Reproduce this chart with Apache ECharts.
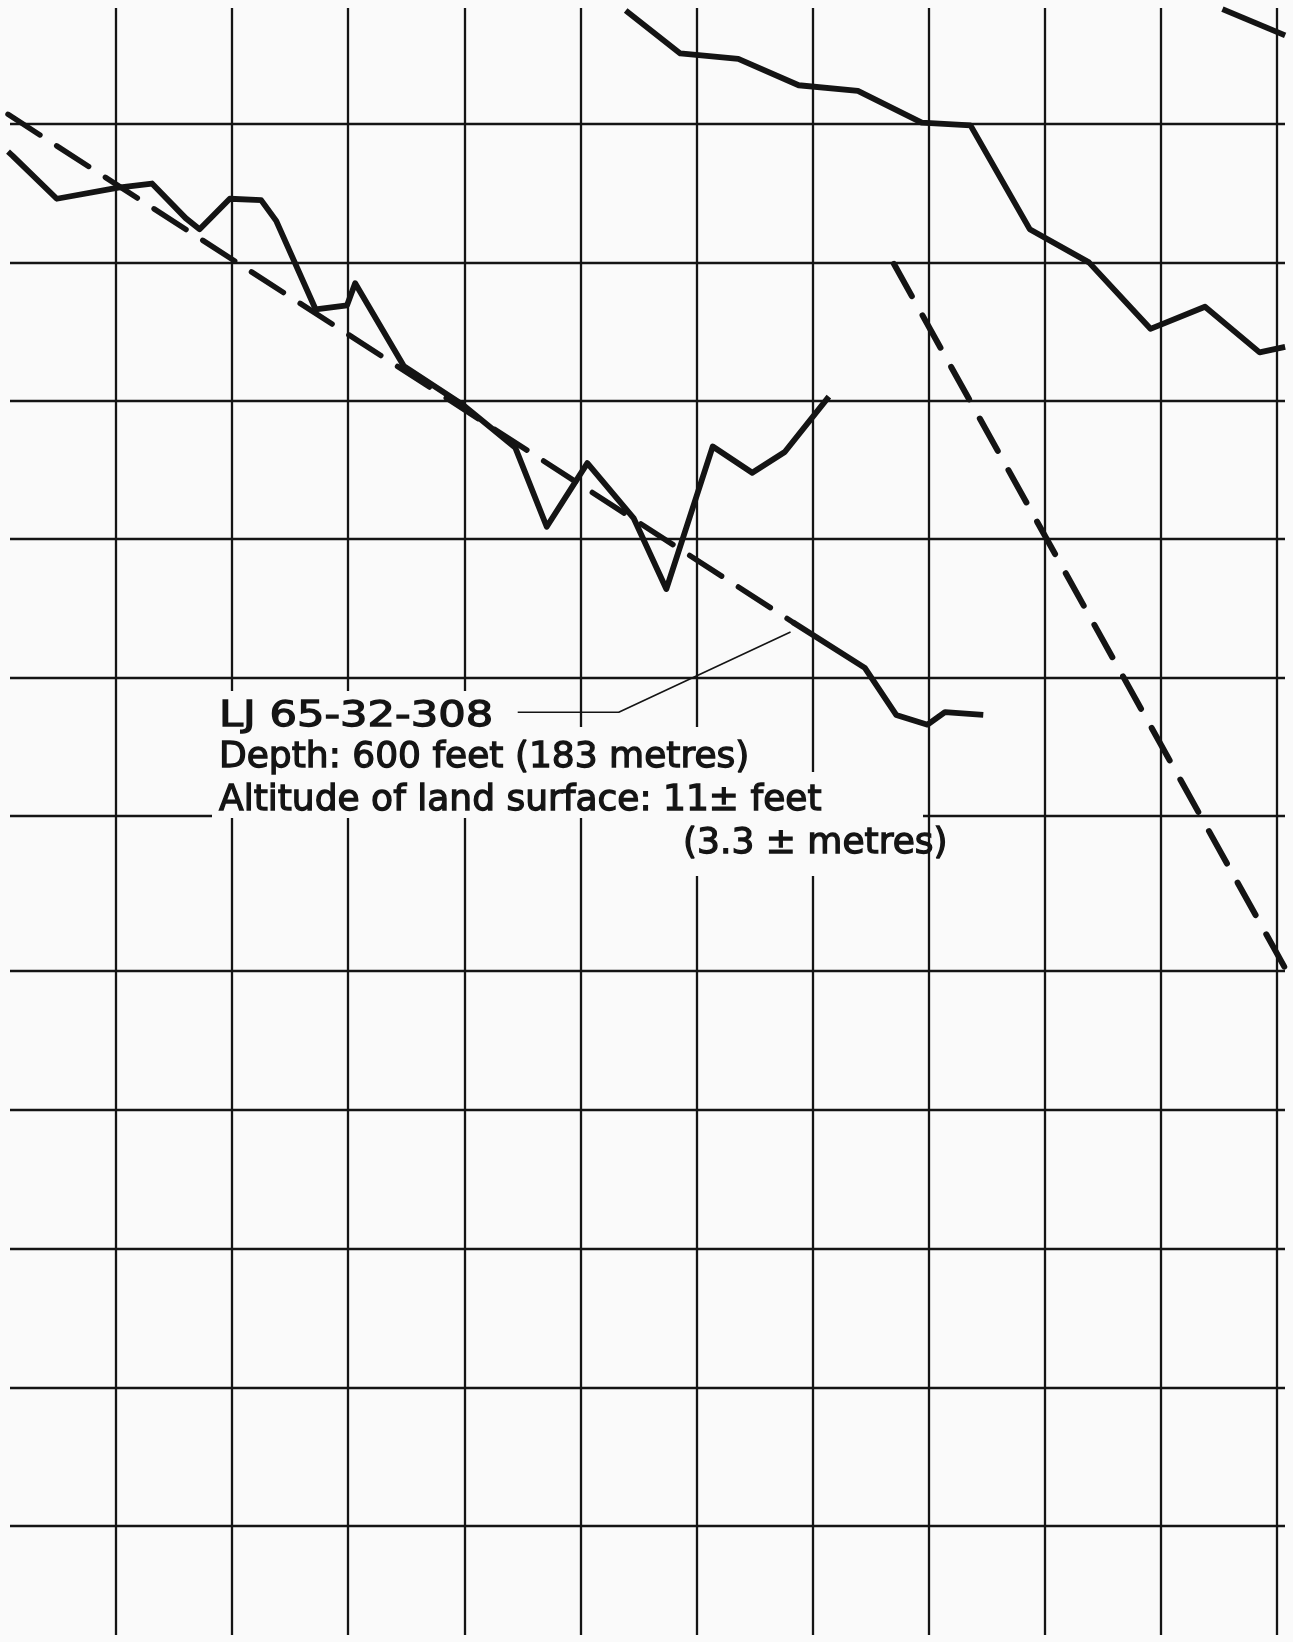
<!DOCTYPE html>
<html>
<head>
<meta charset="utf-8">
<title>LJ 65-32-308</title>
<script src="https://cdn.jsdelivr.net/npm/echarts@6.0.0/dist/echarts.min.js"></script>
<style>
  html, body { margin: 0; padding: 0; background: #fafafa; }
  #chart { width: 1293px; height: 1642px; }
</style>
</head>
<body>
<div id="chart"></div>
<script>
// values, in grid squares:
// x = squares right of the first vertical rule, y = squares above the 6th horizontal rule
var wellLevels = [
  [-0.93, 4.80], [-0.89, 4.77], [-0.51, 4.46], [0.02, 4.54], [0.31, 4.57], [0.60, 4.32],
  [0.72, 4.24], [0.98, 4.46], [1.25, 4.45], [1.38, 4.30], [1.72, 3.66],
  [1.99, 3.69], [2.06, 3.85], [2.48, 3.25], [2.99, 2.97], [3.44, 2.66],
  [3.71, 2.09], [4.06, 2.55], [4.46, 2.15], [4.74, 1.64], [5.14, 2.67],
  [5.48, 2.48], [5.76, 2.63], [6.14, 3.03]
]
var wellLevelsLate = [
  [5.83, 1.40], [6.45, 1.07], [6.72, 0.73], [6.99, 0.66], [7.14, 0.75], [7.47, 0.73]
]
var trendEarly = [[-0.93, 5.07], [5.83, 1.40]]
var upperLevels = [
  [4.39, 5.82], [4.86, 5.51], [5.36, 5.47], [5.88, 5.28], [6.39, 5.24],
  [6.94, 5.01], [7.36, 4.99], [7.87, 4.24], [8.38, 4.00], [8.91, 3.52],
  [9.38, 3.68], [9.85, 3.35], [10.07, 3.39]
]
var upperCorner = [[9.53, 5.83], [10.07, 5.64]]
var trendSteep = [[6.70, 3.99], [10.07, -1.10]]
var leaderLine = [[3.46, 0.75], [4.33, 0.75], [5.81, 1.33]]

var labelLines = [
  'LJ 65-32-308',
  'Depth: 600 feet (183 metres)',
  'Altitude of land surface: 11\u00b1 feet',
  '(3.3 \u00b1 metres)'
]

var INK = '#141414'
var PAPER = '#fafafa'
var W = 1293
var H = 1642
var COL = 116.1       // px per grid square, horizontal
var ROW = 138.4       // px per grid square, vertical
var ZERO_X = 116      // px of the rule at x = 0
var ZERO_Y = 816      // px of the rule at y = 0

var chart = echarts.init(document.getElementById('chart'), null, { renderer: 'canvas' })
chart.setOption(getOptions())

function lineSeries (data, width, dash) {
  return {
    type: 'line',
    xAxisIndex: 3,
    yAxisIndex: 3,
    data: data,
    showSymbol: false,
    clip: false,
    silent: true,
    z: 20,
    lineStyle: {
      color: INK,
      width: width,
      type: dash || 'solid',
      cap: dash ? 'round' : 'butt',
      join: 'round'
    }
  }
}

function hiddenAxis (gridIndex) {
  return { gridIndex: gridIndex, type: 'value', min: 0, max: 1, show: false }
}

function ruleAxis (gridIndex, max) {
  return {
    gridIndex: gridIndex,
    type: 'value',
    min: 0,
    max: max,
    interval: 1,
    axisLine: { show: false },
    axisTick: { show: false },
    axisLabel: { show: false },
    splitLine: { show: true, lineStyle: { color: INK, width: 2.3 } }
  }
}

function labelBox (x, y, w, h) {
  return { type: 'rect', z: 5, silent: true, shape: { x: x, y: y, width: w, height: h }, style: { fill: PAPER } }
}

function labelText (i, x, y, sx) {
  return {
    type: 'text', z: 6, silent: true, x: x, y: y, scaleX: sx || 1,
    style: {
      text: labelLines[i],
      font: '36px "DejaVu Sans"',
      fill: INK,
      stroke: INK,
      lineWidth: 1.3,
      align: 'left',
      verticalAlign: 'middle'
    }
  }
}

function getOptions () {
  return {
    backgroundColor: PAPER,
    animation: false,
    grid: [
      // vertical rules
      { left: 116, right: 16, top: 8, bottom: 7 },
      // horizontal rules, upper and lower sheet
      { left: 10, right: 8, top: 124, height: 692 },
      { left: 10, right: 8, top: 971, height: 555 },
      // whole page, for the curves
      { left: 0, right: 0, top: 0, bottom: 0 }
    ],
    xAxis: [
      ruleAxis(0, 10),
      hiddenAxis(1),
      hiddenAxis(2),
      { gridIndex: 3, type: 'value', show: false, min: -ZERO_X / COL, max: (W - ZERO_X) / COL }
    ],
    yAxis: [
      hiddenAxis(0),
      ruleAxis(1, 5),
      ruleAxis(2, 4),
      { gridIndex: 3, type: 'value', show: false, min: -(H - ZERO_Y) / ROW, max: ZERO_Y / ROW }
    ],
    series: [
      lineSeries(trendEarly, 5.5, [38, 20]),
      lineSeries(trendSteep, 6, [37, 22]),
      lineSeries(wellLevels, 5.8),
      lineSeries(wellLevelsLate, 5.8),
      lineSeries(upperLevels, 5.8),
      lineSeries(upperCorner, 5.8),
      lineSeries(leaderLine, 1.6)
    ],
    graphic: {
      elements: [
        labelBox(212, 691, 293, 38),
        labelBox(212, 727, 558, 47),
        labelBox(212, 772, 630, 46),
        labelBox(680, 814, 243, 62),
        labelText(0, 219, 717, 1.2),
        labelText(1, 219, 758),
        labelText(2, 219, 801),
        labelText(3, 683, 844)
      ]
    }
  }
}
</script>
</body>
</html>
